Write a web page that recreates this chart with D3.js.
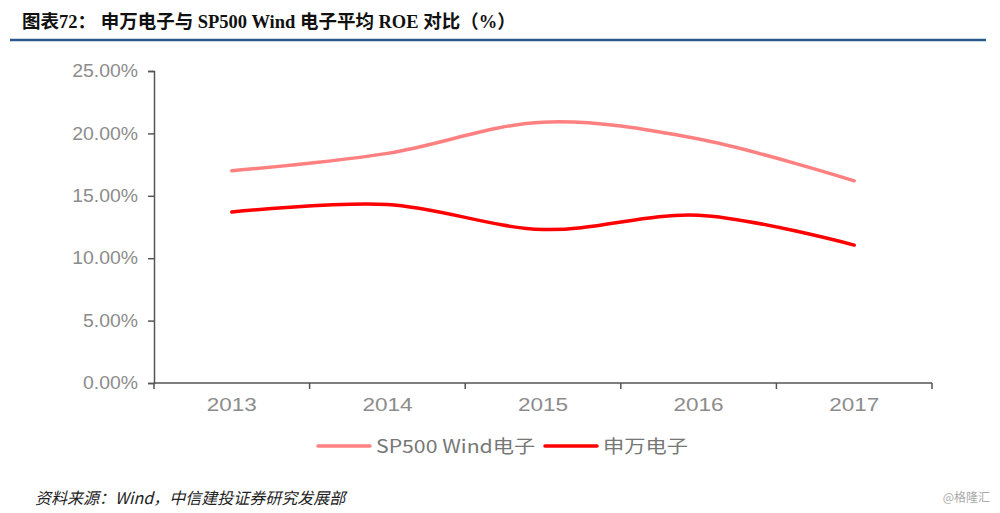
<!DOCTYPE html>
<html>
<head>
<meta charset="utf-8">
<script src="https://cdn.jsdelivr.net/npm/d3@7"></script>
<style>
  body { margin: 0; background: #fff; }
  svg { display: block; }
</style>
</head>
<body>
<div id="chart"></div>
<script>
const width = 1000;
const height = 513;

const years = ["2013", "2014", "2015", "2016", "2017"];
const sp500 = [17.0, 18.4, 20.9, 19.55, 16.2];
const shenwan = [13.7, 14.3, 12.3, 13.45, 11.05];
const yTicks = [0, 5, 10, 15, 20, 25];

const series = [
  { name: "SP500 Wind电子", values: sp500, color: "#ff8080" },
  { name: "申万电子", values: shenwan, color: "#ff0000" }
];

const svg = d3.select("#chart")
  .append("svg")
  .attr("width", width)
  .attr("height", height);

// title
svg.append("text")
  .attr("x", 22)
  .attr("y", 28)
  .attr("font-family", "'Liberation Serif', 'Noto Sans CJK SC', serif")
  .attr("font-weight", "bold")
  .attr("font-size", 18.5)
  .attr("fill", "#111")
  .text("图表72：  申万电子与 SP500 Wind 电子平均 ROE 对比（%）");

svg.append("line")
  .attr("x1", 10).attr("x2", 986)
  .attr("y1", 40).attr("y2", 40)
  .attr("stroke", "#2a5a8a")
  .attr("stroke-width", 2.5);

const x = d3.scaleBand().domain(years).range([154, 932]);
const y = d3.scaleLinear().domain([0, 25]).range([383, 71]);

const axisFont = "'Liberation Sans', Arial, sans-serif";

// y axis
const gy = svg.append("g")
  .attr("transform", "translate(154,0)")
  .call(d3.axisLeft(y).tickValues(yTicks).tickSize(6).tickPadding(6)
    .tickFormat(d => d.toFixed(2) + "%"));
gy.selectAll("text")
  .attr("font-family", axisFont).attr("font-size", 18).attr("fill", "#8c8c8c")
  .attr("transform", "translate(-3,0) scale(1.08,1)");
gy.selectAll("line").attr("stroke", "#555").attr("stroke-width", 1.5);
gy.select(".domain").attr("stroke", "#555").attr("stroke-width", 1.5);

// x axis with ticks on band edges
const gx = svg.append("g").attr("transform", "translate(0,383)");
gx.append("line")
  .attr("x1", 154).attr("x2", 932)
  .attr("stroke", "#555").attr("stroke-width", 1.5);
const edges = years.map(d => x(d)).concat([x.range()[1]]);
gx.selectAll(".edge")
  .data(edges)
  .enter()
  .append("line")
  .attr("class", "edge")
  .attr("x1", d => d).attr("x2", d => d)
  .attr("y1", 0).attr("y2", 6)
  .attr("stroke", "#555").attr("stroke-width", 1.5);
gx.selectAll(".lbl")
  .data(years)
  .enter()
  .append("text")
  .attr("class", "lbl")
  .attr("transform", d => `translate(${x(d) + x.bandwidth() / 2},28) scale(1.25,1)`)
  .attr("text-anchor", "middle")
  .attr("font-family", axisFont)
  .attr("font-size", 18)
  .attr("fill", "#8c8c8c")
  .text(d => d);

// lines
const line = d3.line()
  .x((d, i) => x(years[i]) + x.bandwidth() / 2)
  .y(d => y(d))
  .curve(d3.curveCatmullRom.alpha(0.5));

svg.append("g")
  .selectAll("path")
  .data(series)
  .enter()
  .append("path")
  .attr("d", d => line(d.values))
  .attr("fill", "none")
  .attr("stroke", d => d.color)
  .attr("stroke-width", 3.5)
  .attr("stroke-linecap", "round");

// legend
const legendX = [318, 545];
const legend = svg.append("g")
  .selectAll("g")
  .data(series)
  .enter()
  .append("g")
  .attr("transform", (d, i) => `translate(${legendX[i]},446)`);
legend.append("line")
  .attr("x1", 0).attr("x2", 52)
  .attr("stroke", d => d.color)
  .attr("stroke-width", 3.5)
  .attr("stroke-linecap", "round");
legend.append("text")
  .attr("transform", "translate(58,7) scale(1.18,1)")
  .attr("font-family", "'Noto Sans CJK SC', 'Liberation Sans', sans-serif")
  .attr("font-size", 18)
  .attr("fill", "#777")
  .text(d => d.name);

// source
svg.append("text")
  .attr("x", 35)
  .attr("y", 504)
  .attr("font-family", "'Noto Sans CJK SC', sans-serif")
  .attr("font-style", "italic")
  .attr("font-size", 16)
  .attr("fill", "#222")
  .text("资料来源：Wind，中信建投证券研究发展部");

svg.append("text")
  .attr("x", 990)
  .attr("y", 502)
  .attr("text-anchor", "end")
  .attr("font-family", "'Noto Sans CJK SC', sans-serif")
  .attr("font-size", 12)
  .attr("fill", "#aaa")
  .text("@格隆汇");
</script>
</body>
</html>
